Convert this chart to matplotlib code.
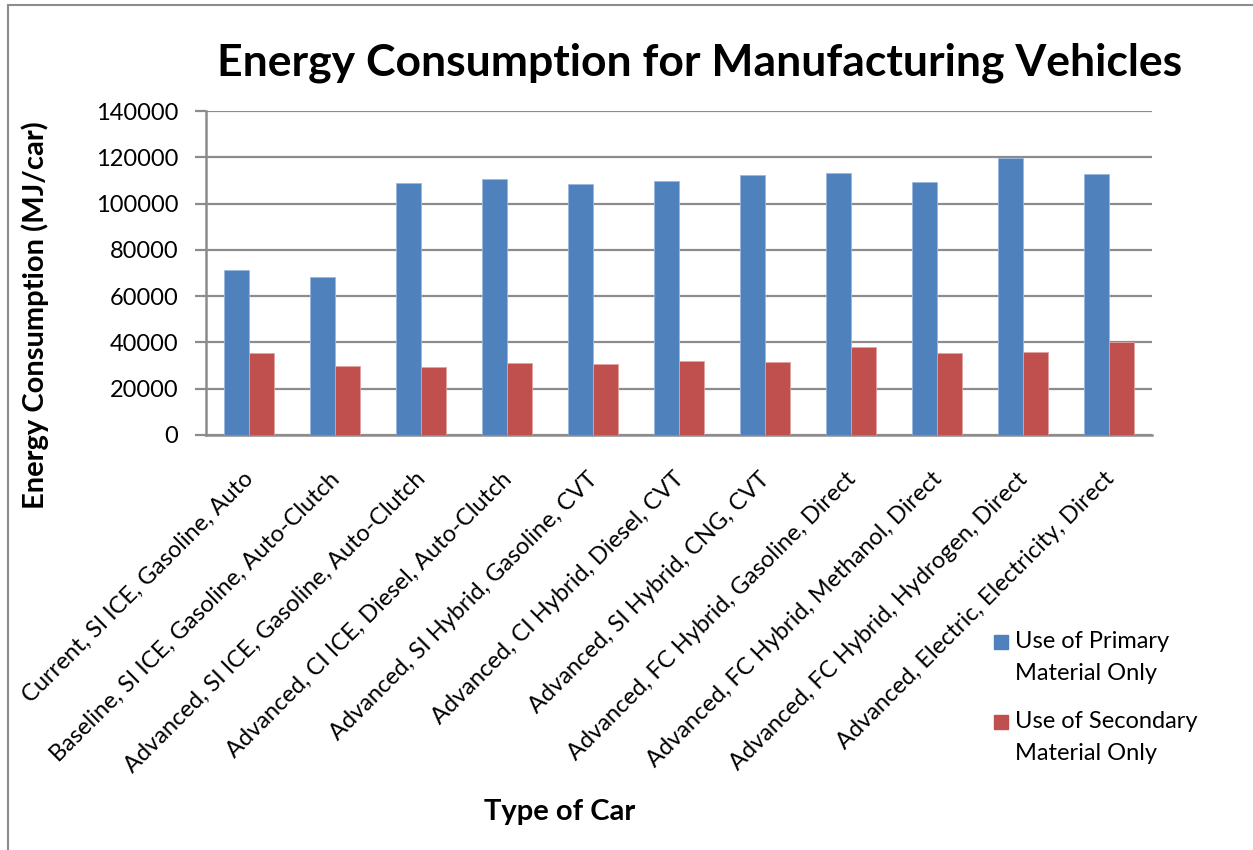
import matplotlib.pyplot as plt
import matplotlib.transforms as mtransforms
import numpy as np
from matplotlib.patches import Rectangle

# Car types and energy use per car (MJ/car)
car_types = [
    "Current, SI ICE, Gasoline, Auto",
    "Baseline, SI ICE, Gasoline, Auto-Clutch",
    "Advanced, SI ICE, Gasoline, Auto-Clutch",
    "Advanced, CI ICE, Diesel, Auto-Clutch",
    "Advanced, SI Hybrid, Gasoline, CVT",
    "Advanced, CI Hybrid, Diesel, CVT",
    "Advanced, SI Hybrid, CNG, CVT",
    "Advanced, FC Hybrid, Gasoline, Direct",
    "Advanced, FC Hybrid, Methanol, Direct",
    "Advanced, FC Hybrid, Hydrogen, Direct",
    "Advanced, Electric, Electricity, Direct",
]
primary = [71300, 68400, 108900, 110600, 108500, 109800, 112400, 113100, 109500, 119500, 112800]
secondary = [35400, 29800, 29400, 31100, 30700, 32000, 31500, 38000, 35400, 36000, 40300]
y_ticks = [0, 20000, 40000, 60000, 80000, 100000, 120000, 140000]
series_names = ["Use of Primary\nMaterial Only", "Use of Secondary\nMaterial Only"]
colors = ['#4F81BD', '#C0504D']

plt.rcParams['font.family'] = ['Lato', 'DejaVu Sans']

W, H = 1253, 850
fig = plt.figure(figsize=(W / 100, H / 100), dpi=100)
ax = fig.add_axes([206 / W, 1 - 435 / H, 946 / W, 324 / H])

# chart area border
fig.patches.append(Rectangle((8 / W, -0.05), 1.1, 1.05 - 5 / H,
                             transform=fig.transFigure, fill=False,
                             edgecolor='#8c8c8c', linewidth=1.5))

x = np.arange(len(car_types))
w = 1 / 3.5
ax.bar(x - w / 2, primary, w, color=colors[0], edgecolor='#9bb7dd', linewidth=0.6, zorder=3)
ax.bar(x + w / 2, secondary, w, color=colors[1], edgecolor='#e0a3a1', linewidth=0.6, zorder=3)

ax.set_xlim(-0.5, len(car_types) - 0.5)
ax.set_ylim(0, 140000)
ax.set_yticks(y_ticks)
ax.set_yticklabels([str(v) for v in y_ticks], fontsize=17)
ax.yaxis.grid(True, color='#8c8c8c', linewidth=1.6, zorder=0)
ax.tick_params(axis='y', length=8, width=1.6, color='#8c8c8c', pad=12)

ax.set_xticks(x)
ax.set_xticklabels(car_types, rotation=45, ha='right', rotation_mode='anchor', fontsize=17)
ax.tick_params(axis='x', length=0, pad=24)
shift = mtransforms.ScaledTranslation(-6 / 100, 0, fig.dpi_scale_trans)
for lbl in ax.get_xticklabels():
    lbl.set_transform(lbl.get_transform() + shift)

for side in ['top', 'right']:
    ax.spines[side].set_visible(False)
for side in ['left', 'bottom']:
    ax.spines[side].set_color('#8c8c8c')
    ax.spines[side].set_linewidth(1.8)

fig.text(700 / W, 1 - 63 / H, 'Energy Consumption for Manufacturing Vehicles',
         ha='center', va='center', fontsize=32, fontweight='bold')
fig.text(35 / W, 1 - 315 / H, 'Energy Consumption (MJ/car)', rotation=90,
         ha='center', va='center', fontsize=21, fontweight='bold')
fig.text(560 / W, 1 - 812 / H, 'Type of Car', ha='center', va='center',
         fontsize=21, fontweight='bold')

# legend: square beside the first line of each two-line label
for name, color, y0 in zip(series_names, colors, [642, 722]):
    fig.patches.append(Rectangle((994 / W, 1 - (y0 + 7) / H), 14 / W, 14 / H,
                                 transform=fig.transFigure, color=color))
    fig.text(1015 / W, 1 - (y0 - 11) / H, name, ha='left', va='top',
             fontsize=17, linespacing=1.65)

fig.savefig('out.png', dpi=100)
